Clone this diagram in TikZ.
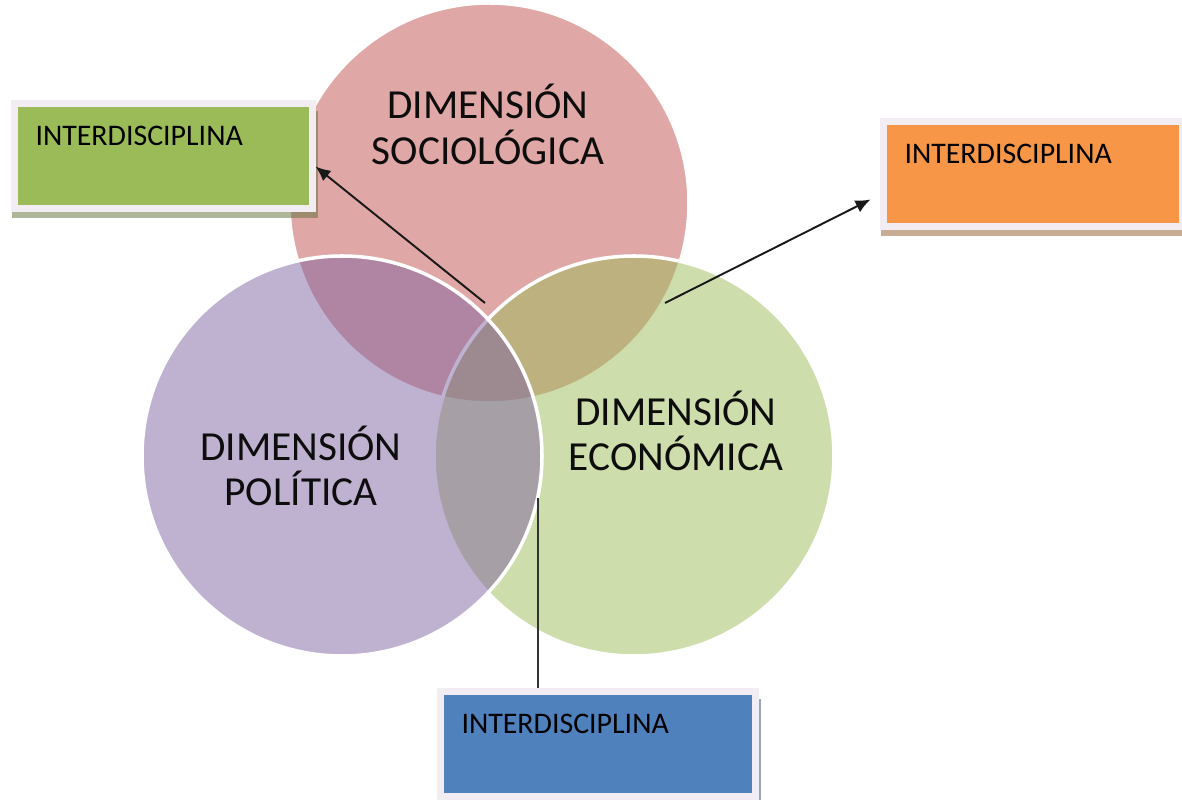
\documentclass[tikz,border=0pt]{standalone}
\usepackage{fontspec}
\setmainfont{Carlito}
\usetikzlibrary{arrows.meta,shadows}

\definecolor{socred}{RGB}{192,80,77}
\definecolor{ecogreen}{RGB}{155,187,89}
\definecolor{polpurple}{RGB}{128,100,162}
\definecolor{boxorange}{RGB}{247,150,70}
\definecolor{boxblue}{RGB}{79,129,189}
\definecolor{boxframe}{RGB}{241,237,243}

\tikzset{
	dimension/.style={circle,minimum size=8cm,inner sep=0pt,draw=white,line width=2pt,
		fill=#1,fill opacity=.5},
	dimtext/.style={align=center,text=black!95,font=\fontsize{23.5}{26}\selectfont},
	interbox/.style={rectangle,anchor=north west,draw=boxframe,line width=.14cm,fill=#1,
		inner xsep=.43cm,inner ysep=0pt,text height=.83cm,text depth=1.27cm,align=left,
		font=\fontsize{17}{20}\selectfont,
		drop shadow={shadow scale=1.025,shadow xshift=.04cm,shadow yshift=-.16cm,
			fill=#1!60!black,opacity=.5}},
}

\begin{document}
\begin{tikzpicture}[>={Latex[length=8.5pt,width=7.5pt]}]
		\useasboundingbox (0,0) rectangle (23.64,16);
		% the three dimensions
		\path
		+(9.78,11.94) node[dimension=socred]    (soc) {}
		+(12.68,6.88) node[dimension=ecogreen]  (eco) {}
		+(6.84,6.88)  node[dimension=polpurple] (pol) {}
		;
		\path
		+(9.76,13.51) node[dimtext] (soctext) {DIMENSIÓN\\SOCIOLÓGICA}
		+(13.52,7.38) node[dimtext] (ecotext) {DIMENSIÓN\\ECONÓMICA}
		+(6.02,6.68)  node[dimtext] (poltext) {DIMENSIÓN\\POLÍTICA}
		;
		% boxes
		\path
		+(0.21,13.99) node[interbox=ecogreen,text width=5.1cm]   (gbox) {INTERDISCIPLINA}
		+(17.59,13.63) node[interbox=boxorange,text width=5.12cm] (obox) {INTERDISCIPLINA}
		+(8.73,2.23)  node[interbox=boxblue,text width=5.44cm]   (bbox) {INTERDISCIPLINA}
		;
		\coordinate (lensA) at (9.70,9.94);
		\coordinate (lensB) at (13.30,9.94);
		\coordinate (lensC) at (10.76,6.04);
		\draw[->,line width=1.1pt,black!90] (lensA)--([yshift=-0.2cm]gbox.east);
		\draw[->,line width=1.1pt,black!90] (lensB)--([shift={(-0.18,-0.5)}]obox.west);
		\draw[line width=1.1pt,black!80] (lensC)--(lensC |- bbox.north);
\end{tikzpicture}
\end{document}
